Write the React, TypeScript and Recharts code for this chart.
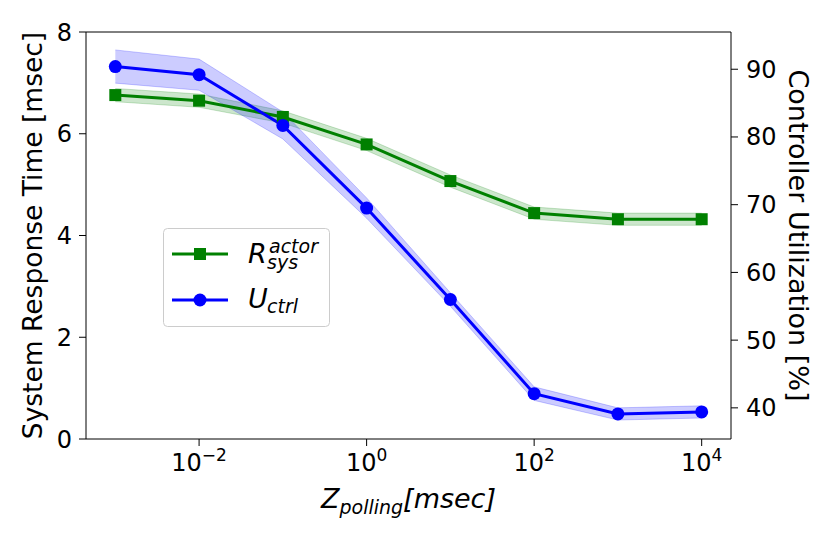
import {
  Area,
  ComposedChart,
  Legend,
  Line,
  ReferenceLine,
  XAxis,
  YAxis,
} from "recharts";

// polling period (msec), log spaced
const pollingMs = [0.001, 0.01, 0.1, 1, 10, 100, 1000, 10000];
// system response time [msec] (left axis)
const respTime = [6.76, 6.65, 6.33, 5.79, 5.07, 4.44, 4.32, 4.32];
const respErr = [0.13, 0.13, 0.12, 0.12, 0.12, 0.12, 0.12, 0.12];
// controller utilization [%] (right axis)
const ctrlUtil = [90.4, 89.2, 81.7, 69.5, 56.0, 42.1, 39.1, 39.4];
const utilErr = [2.45, 2.3, 2.0, 1.5, 1.0, 1.0, 0.9, 0.9];

const xTicks = [0.01, 1, 100, 10000];
const leftTicks = [0, 2, 4, 6, 8];
const rightTicks = [40, 50, 60, 70, 80, 90];

const FONT = "DejaVu Sans";
const GREEN = "#008000";
const BLUE = "#0000ff";

const data = pollingMs.map((x, i) => ({
  x,
  resp: respTime[i],
  respBand: [respTime[i] - respErr[i], respTime[i] + respErr[i]],
  util: ctrlUtil[i],
  utilBand: [ctrlUtil[i] - utilErr[i], ctrlUtil[i] + utilErr[i]],
}));

function LogTick(props: any) {
  const { x, y, payload } = props;
  const exp = Math.round(Math.log10(payload.value));
  const expStr = exp < 0 ? "\u2212" + String(-exp) : String(exp);
  return (
    <text x={x} y={y + 23} textAnchor="middle" fontFamily={FONT} fill="#000">
      <tspan fontSize={24}>10</tspan>
      <tspan fontSize={17} dy={-10}>
        {expStr}
      </tspan>
    </text>
  );
}

function SquareDot(props: any) {
  const { cx, cy, index } = props;
  if (cx == null || cy == null) return <g key={`sq-${index}`} />;
  return (
    <rect key={`sq-${index}`} x={cx - 6} y={cy - 6} width={12} height={12} fill={GREEN} />
  );
}

function LegendBox() {
  return (
    <svg width={167} height={99} style={{ display: "block" }}>
      <rect x={0.5} y={0.5} width={166} height={98} rx={4} fill="#fff" fillOpacity={0.8} stroke="#cccccc" />
      <line x1={9} x2={65} y1={26} y2={26} stroke={GREEN} strokeWidth={3} />
      <rect x={31} y={20} width={12} height={12} fill={GREEN} />
      <text fontFamily={FONT} fontStyle="italic" fill="#000">
        <tspan x={85} y={35} fontSize={27}>R</tspan>
        <tspan x={106} y={25} fontSize={19}>actor</tspan>
        <tspan x={104} y={41} fontSize={19}>sys</tspan>
      </text>
      <line x1={9} x2={65} y1={72} y2={72} stroke={BLUE} strokeWidth={3} />
      <circle cx={37} cy={72} r={6.5} fill={BLUE} />
      <text fontFamily={FONT} fontStyle="italic" fill="#000">
        <tspan x={85} y={80} fontSize={27}>U</tspan>
        <tspan x={104} y={85} fontSize={19}>ctrl</tspan>
      </text>
    </svg>
  );
}

export default function App() {
  return (
    <div style={{ position: "absolute", left: 0, top: 0, width: 830, height: 554, background: "#fff" }}>
      <ComposedChart
        width={830}
        height={554}
        data={data}
        margin={{ top: 32, right: 0, bottom: 0, left: 0 }}
      >
        <XAxis
          dataKey="x"
          type="number"
          scale="log"
          domain={[Math.pow(10, -3.35), Math.pow(10, 4.35)]}
          allowDataOverflow
          ticks={xTicks}
          interval={0}
          height={115}
          tickSize={7}
          stroke="#000"
          tick={<LogTick />}
          label={{
            content: (p: any) => {
              const vb = p.viewBox;
              return (
                <text
                  x={vb.x + vb.width / 2}
                  y={vb.y + 69}
                  textAnchor="middle"
                  fontFamily={FONT}
                  fontStyle="italic"
                  fill="#000"
                >
                  <tspan fontSize={27}>Z</tspan>
                  <tspan fontSize={19} dy={6}>polling</tspan>
                  <tspan fontSize={27} dy={-6}>[msec]</tspan>
                </text>
              );
            },
          }}
        />
        <YAxis
          yAxisId="left"
          orientation="left"
          domain={[0, 8]}
          ticks={leftTicks}
          width={86}
          tickSize={7}
          tickMargin={7}
          stroke="#000"
          tick={{ fill: "#000", fontSize: 24, fontFamily: FONT }}
          label={{
            content: (p: any) => {
              const vb = p.viewBox;
              const cy = vb.y + vb.height / 2;
              return (
                <text
                  x={42}
                  y={cy}
                  transform={`rotate(-90, 42, ${cy})`}
                  textAnchor="middle"
                  fontFamily={FONT}
                  fontSize={26.5}
                  fill="#000"
                >
                  System Response Time [msec]
                </text>
              );
            },
          }}
        />
        <YAxis
          yAxisId="right"
          orientation="right"
          domain={[35.4, 95.5]}
          ticks={rightTicks}
          allowDataOverflow
          width={99}
          tickSize={7}
          tickMargin={8}
          stroke="#000"
          tick={{ fill: "#000", fontSize: 24, fontFamily: FONT }}
          label={{
            content: (p: any) => {
              const vb = p.viewBox;
              const cy = vb.y + vb.height / 2;
              const bx = vb.x + 58;
              return (
                <text
                  x={bx}
                  y={cy}
                  transform={`rotate(90, ${bx}, ${cy})`}
                  textAnchor="middle"
                  fontFamily={FONT}
                  fontSize={27}
                  fill="#000"
                >
                  Controller Utilization [%]
                </text>
              );
            },
          }}
        />
        <ReferenceLine yAxisId="left" y={8} stroke="#000" />
        <Area
          yAxisId="left"
          type="linear"
          dataKey="respBand"
          fill={GREEN}
          fillOpacity={0.2}
          stroke={GREEN}
          strokeOpacity={0.2}
          isAnimationActive={false}
          legendType="none"
        />
        <Line
          yAxisId="left"
          type="linear"
          dataKey="resp"
          stroke={GREEN}
          strokeWidth={3}
          dot={SquareDot}
          activeDot={false}
          isAnimationActive={false}
        />
        <Area
          yAxisId="right"
          type="linear"
          dataKey="utilBand"
          fill={BLUE}
          fillOpacity={0.2}
          stroke={BLUE}
          strokeOpacity={0.2}
          isAnimationActive={false}
          legendType="none"
        />
        <Line
          yAxisId="right"
          type="linear"
          dataKey="util"
          stroke={BLUE}
          strokeWidth={3}
          dot={{ r: 6.5, fill: BLUE, stroke: BLUE, strokeWidth: 0 }}
          activeDot={false}
          isAnimationActive={false}
        />
        <Legend
          layout="vertical"
          align="center"
          verticalAlign="middle"
          content={() => <LegendBox />}
          wrapperStyle={{ left: 163, top: 228, width: 167, height: 99 }}
        />
      </ComposedChart>
    </div>
  );
}
